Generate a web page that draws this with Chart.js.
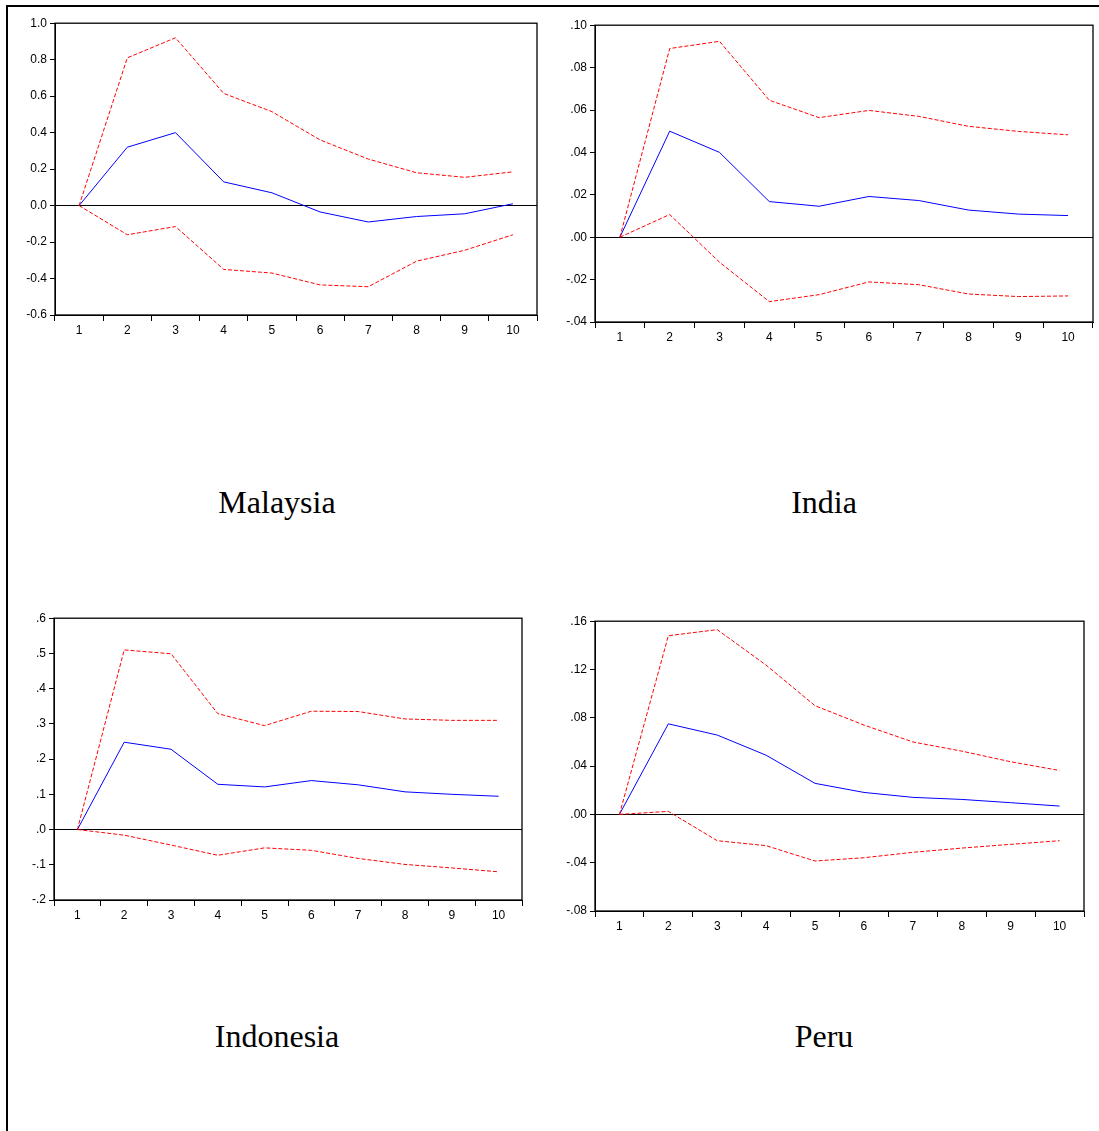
<!DOCTYPE html>
<html>
<head>
<meta charset="utf-8">
<script src="https://cdn.jsdelivr.net/npm/chart.js@4/dist/chart.umd.min.js"></script>
<style>
    html, body { margin: 0; padding: 0; background: #fff; }
    body { width: 1099px; height: 1131px; position: relative; overflow: hidden; }
    .frame { position: absolute; left: 6px; top: 5px; width: 1100px; height: 1140px;
             border-left: 2px solid #000; border-top: 2px solid #000; }
    .panel { position: absolute; }
    .title { position: absolute; width: 400px; text-align: center; line-height: 36px;
             font-family: "Liberation Serif", "Times New Roman", serif; font-size: 32px; color: #000; }
</style>
</head>
<body>
<div class="frame"></div>

<div class="panel" style="left:9px;top:13px;width:532px;height:332px"><canvas id="malaysia"></canvas></div>
<div class="panel" style="left:549px;top:15px;width:548px;height:337px"><canvas id="india"></canvas></div>
<div class="panel" style="left:8px;top:608px;width:518px;height:322px"><canvas id="indonesia"></canvas></div>
<div class="panel" style="left:549px;top:611px;width:539px;height:330px"><canvas id="peru"></canvas></div>

<div class="title" style="left:77px;top:484px">Malaysia</div>
<div class="title" style="left:624px;top:484px">India</div>
<div class="title" style="left:77px;top:1018px">Indonesia</div>
<div class="title" style="left:624px;top:1018px">Peru</div>

<script>
// Periods
const periods = ['1', '2', '3', '4', '5', '6', '7', '8', '9', '10'];

// Malaysia
const malaysiaResp  = [0, 0.32, 0.40, 0.13, 0.07, -0.035, -0.09, -0.06, -0.045, 0.01];
const malaysiaUpper = [0, 0.81, 0.92, 0.615, 0.515, 0.36, 0.255, 0.18, 0.155, 0.185];
const malaysiaLower = [0, -0.16, -0.115, -0.35, -0.37, -0.435, -0.445, -0.305, -0.245, -0.16];

// India
const indiaResp  = [0, 0.050, 0.040, 0.0168, 0.0146, 0.0192, 0.0173, 0.0128, 0.0109, 0.0102];
const indiaUpper = [0, 0.089, 0.0924, 0.0646, 0.0564, 0.0598, 0.057, 0.0523, 0.0499, 0.0483];
const indiaLower = [0, 0.0107, -0.0118, -0.0304, -0.0271, -0.0211, -0.0224, -0.0268, -0.028, -0.0277];

// Indonesia
const indonesiaResp  = [0, 0.248, 0.228, 0.1285, 0.121, 0.139, 0.127, 0.107, 0.100, 0.0945];
const indonesiaUpper = [0, 0.510, 0.499, 0.329, 0.295, 0.336, 0.335, 0.314, 0.310, 0.310];
const indonesiaLower = [0, -0.016, -0.044, -0.073, -0.052, -0.059, -0.082, -0.099, -0.109, -0.120];

// Peru
const peruResp  = [0, 0.075, 0.0657, 0.049, 0.0257, 0.0182, 0.0141, 0.0124, 0.0097, 0.0069];
const peruUpper = [0, 0.148, 0.153, 0.1236, 0.090, 0.074, 0.060, 0.0524, 0.0436, 0.0364];
const peruLower = [0, 0.0025, -0.0218, -0.0259, -0.0386, -0.0359, -0.0314, -0.0279, -0.0248, -0.0218];

// Y axis ranges: [min, max, step, decimals, leading zero]
const malaysiaAxis  = [-0.6, 1.0, 0.2, 1, true];
const indiaAxis     = [-0.04, 0.10, 0.02, 2, false];
const indonesiaAxis = [-0.2, 0.6, 0.1, 1, false];
const peruAxis      = [-0.08, 0.16, 0.04, 2, false];

const tickFont = { family: '"Liberation Sans", Arial, sans-serif', size: 12 };

// Draw a box round the plot area
const boxPlugin = {
    id: 'plotBox',
    afterDraw(chart) {
        const a = chart.chartArea;
        const ctx = chart.ctx;
        ctx.save();
        ctx.strokeStyle = '#000';
        ctx.lineWidth = 1.3;
        ctx.strokeRect(a.left, a.top, a.right - a.left, a.bottom - a.top);
        ctx.restore();
    }
};

function formatTick(value, decimals, leading) {
    let s = Math.abs(value).toFixed(decimals);
    if (!leading) s = s.replace(/^0/, '');
    return (value < -1e-9 ? '-' : '') + s;
}

function makeChart(id, resp, upper, lower, axis, padTop) {
    const [min, max, step, decimals, leading] = axis;
    const band = (data) => ({
        data: data,
        borderColor: '#ff0000',
        borderWidth: 1,
        borderDash: [4, 2],
        pointRadius: 0,
        fill: false,
        tension: 0
    });
    new Chart(document.getElementById(id), {
        type: 'line',
        data: {
            labels: periods,
            datasets: [
                band(upper),
                band(lower),
                {
                    data: resp,
                    borderColor: '#0000ff',
                    borderWidth: 1,
                    pointRadius: 0,
                    fill: false,
                    tension: 0
                }
            ]
        },
        options: {
            responsive: true,
            maintainAspectRatio: false,
            animation: false,
            layout: { padding: { top: padTop, right: 4, left: 0, bottom: 0 } },
            plugins: { legend: { display: false }, tooltip: { enabled: false } },
            scales: {
                x: {
                    offset: true,
                    grid: { offset: true, drawOnChartArea: false, color: '#000', tickLength: 6 },
                    border: { color: '#000', width: 1 },
                    ticks: { font: tickFont, color: '#000', padding: 2, maxRotation: 0, autoSkip: false },
                    afterFit(scale) { scale.height = 30; }
                },
                y: {
                    min: min,
                    max: max,
                    grid: {
                        color: (c) => Math.abs(c.tick.value) < 1e-9 ? '#000' : 'rgba(0,0,0,0)',
                        tickColor: '#000',
                        tickLength: 5,
                        lineWidth: 1
                    },
                    border: { color: '#000', width: 1 },
                    ticks: {
                        stepSize: step,
                        font: tickFont,
                        color: '#000',
                        padding: 3,
                        callback: (v) => formatTick(v, decimals, leading)
                    },
                    afterFit(scale) { scale.width = 46; }
                }
            }
        },
        plugins: [boxPlugin]
    });
}

makeChart('malaysia', malaysiaResp, malaysiaUpper, malaysiaLower, malaysiaAxis, 10);
makeChart('india', indiaResp, indiaUpper, indiaLower, indiaAxis, 10);
makeChart('indonesia', indonesiaResp, indonesiaUpper, indonesiaLower, indonesiaAxis, 10);
makeChart('peru', peruResp, peruUpper, peruLower, peruAxis, 10);
</script>
</body>
</html>
